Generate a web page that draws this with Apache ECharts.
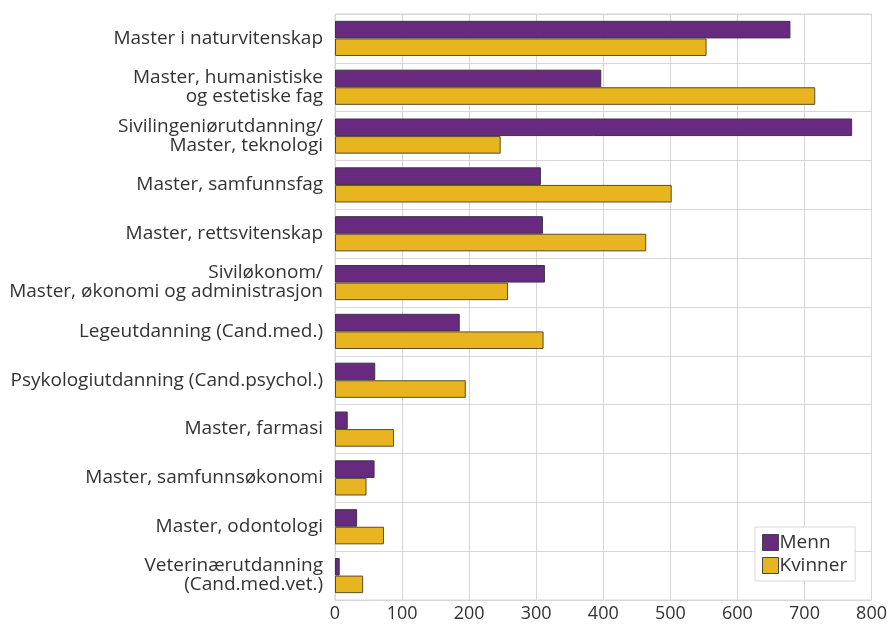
<!DOCTYPE html>
<html><head><meta charset="utf-8">
<script src="https://cdn.jsdelivr.net/npm/echarts@6/dist/echarts.min.js"></script>
<style>html,body{margin:0;padding:0;background:#fff}#c{width:890px;height:625px}</style>
</head><body><div id="c"></div>
<script>
const categories = [
  "Master i naturvitenskap",
  "Master, humanistiske\nog estetiske fag",
  "Sivilingeniørutdanning/\nMaster, teknologi",
  "Master, samfunnsfag",
  "Master, rettsvitenskap",
  "Siviløkonom/\nMaster, økonomi og administrasjon",
  "Legeutdanning (Cand.med.)",
  "Psykologiutdanning (Cand.psychol.)",
  "Master, farmasi",
  "Master, samfunnsøkonomi",
  "Master, odontologi",
  "Veterinærutdanning\n(Cand.med.vet.)"
];
const menn = [679, 397, 771, 307, 310, 313, 186, 60, 19, 59, 33, 7];
const kvinner = [554, 716, 247, 502, 464, 258, 311, 195, 88, 47, 73, 42];
const xTicks = [0, 100, 200, 300, 400, 500, 600, 700, 800];

const font = "'Open Sans', 'Noto Sans', sans-serif";
const chart = echarts.init(document.getElementById('c'), null, {renderer: 'canvas'});
chart.setOption({
  animation: false,
  textStyle: {fontFamily: font},
  grid: {left: 335, right: 16, top: 14, bottom: 25, containLabel: false,
         show: true, borderColor: '#d6d6d6', borderWidth: 1},
  legend: {
    orient: 'vertical', left: 755, top: 527,
    itemWidth: 16, itemHeight: 16, itemGap: 4,
    backgroundColor: '#fff', borderColor: '#d9d9d9', borderWidth: 1,
    padding: [6, 8, 6, 7],
    textStyle: {fontSize: 19, color: '#333', fontFamily: font, padding: [0, 0, 0, -4]},
    data: [
      {name: 'Menn', icon: 'rect', itemStyle: {borderColor: '#444', borderWidth: 1}},
      {name: 'Kvinner', icon: 'rect', itemStyle: {borderColor: '#444', borderWidth: 1}}
    ]
  },
  xAxis: {
    type: 'value', min: xTicks[0], max: xTicks[xTicks.length - 1], interval: 100,
    axisLine: {show: false}, axisTick: {show: false},
    splitLine: {show: true, lineStyle: {color: '#d6d6d6', width: 1}},
    axisLabel: {fontSize: 18, color: '#333', fontFamily: font, margin: 5}
  },
  yAxis: {
    type: 'category', data: categories, inverse: true,
    axisLine: {show: false}, axisTick: {show: false},
    splitLine: {show: true, lineStyle: {color: '#d6d6d6', width: 1}},
    axisLabel: {fontSize: 19, color: '#333', fontFamily: font, margin: 12, lineHeight: 19, align: 'right'}
  },
  series: [
    {name: 'Menn', type: 'bar', data: menn, barGap: '0%', barCategoryGap: '28%',
     itemStyle: {color: '#682a7f', borderColor: '#3e3342', borderWidth: 1}},
    {name: 'Kvinner', type: 'bar', data: kvinner, barGap: '0%', barCategoryGap: '28%',
     itemStyle: {color: '#e8b420', borderColor: '#5a4c2a', borderWidth: 1}}
  ]
});
</script></body></html>
